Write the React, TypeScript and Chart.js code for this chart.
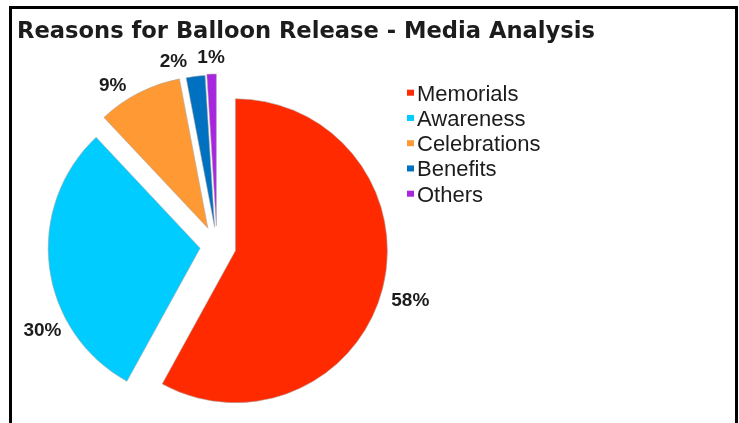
import React, { useEffect, useRef } from 'react';
import { Chart, registerables } from 'chart.js';

Chart.register(...registerables);

// ---- data ----
const TITLE = 'Reasons for Balloon Release - Media Analysis';
const categories = ['Memorials', 'Awareness', 'Celebrations', 'Benefits', 'Others'];
const shares = [58, 30, 9, 2, 1];
const colors = ['#FF2A00', '#00CCFF', '#FF9933', '#0070C0', '#A826E0'];

// ---- styling (explosion and label placement relative to each slice) ----
const explode = [19, 17, 20, 19, 20];
const labelDistance = [201, 194, 191, 189, 188];
const labelAngleShift = [1.5, -18.7, -6.1, -6.1, 0];

const TEXT_COLOR = '#1c1c1c';

const explodePlugin = {
  id: 'explodeSlices',
  beforeDatasetDraw(chart: any, args: any) {
    const ctx = chart.ctx;
    args.meta.data.forEach((arc: any, i: number) => {
      const mid = (arc.startAngle + arc.endAngle) / 2;
      const d = explode[i] || 0;
      ctx.save();
      ctx.translate(Math.cos(mid) * d, Math.sin(mid) * d);
      arc.draw(ctx);
      ctx.restore();
    });
    return false;
  },
};

const decorPlugin = {
  id: 'decor',
  afterDraw(chart: any) {
    const ctx = chart.ctx;
    const meta = chart.getDatasetMeta(0);
    const values: number[] = chart.data.datasets[0].data;
    const total = values.reduce((a, b) => a + b, 0);

    // title
    ctx.save();
    ctx.fillStyle = TEXT_COLOR;
    ctx.textBaseline = 'alphabetic';
    ctx.textAlign = 'left';
    ctx.font = 'bold 23px "DejaVu Sans"';
    const w = ctx.measureText(TITLE).width;
    ctx.translate(17, 38);
    ctx.scale(578 / w, 1);
    ctx.fillText(TITLE, 0, 0);
    ctx.restore();

    // percentage labels
    ctx.save();
    ctx.fillStyle = TEXT_COLOR;
    ctx.font = 'bold 19px "Liberation Sans", Arial, sans-serif';
    ctx.textAlign = 'center';
    ctx.textBaseline = 'middle';
    meta.data.forEach((arc: any, i: number) => {
      const mid = (arc.startAngle + arc.endAngle) / 2 + (labelAngleShift[i] * Math.PI) / 180;
      const r = labelDistance[i];
      const pct = Math.round((values[i] / total) * 100) + '%';
      ctx.fillText(pct, arc.x + Math.cos(mid) * r, arc.y + Math.sin(mid) * r);
    });
    ctx.restore();

    // legend
    ctx.save();
    ctx.font = '22px "Liberation Sans", Arial, sans-serif';
    ctx.textAlign = 'left';
    ctx.textBaseline = 'alphabetic';
    const labels: string[] = chart.data.labels;
    labels.forEach((lab, i) => {
      const base = 100.7 + i * 25.25;
      ctx.fillStyle = (chart.data.datasets[0].backgroundColor as string[])[i];
      ctx.fillRect(407, base - 11, 7, 6);
      ctx.fillStyle = TEXT_COLOR;
      ctx.fillText(lab, 417, base);
    });
    ctx.restore();
  },
};

export default function App() {
  const canvasRef = useRef<HTMLCanvasElement | null>(null);

  useEffect(() => {
    if (!canvasRef.current) return;
    const chart = new Chart(canvasRef.current, {
      type: 'pie',
      data: {
        labels: categories,
        datasets: [
          {
            data: shares,
            backgroundColor: colors,
            borderColor: 'rgba(170,170,170,0.7)',
            borderWidth: 0.8,
            offset: 0,
            hoverOffset: 0,
          },
        ],
      },
      options: {
        responsive: false,
        animation: false,
        events: [],
        radius: 152,
        layout: { padding: { left: 17, right: 322, top: 76, bottom: 7 } },
        plugins: {
          legend: { display: false },
          title: { display: false },
          tooltip: { enabled: false },
        },
      } as any,
      plugins: [explodePlugin, decorPlugin],
    });
    return () => chart.destroy();
  }, []);

  return (
    <div
      style={{
        position: 'fixed',
        left: 0,
        top: 0,
        width: 739,
        height: 423,
        overflow: 'hidden',
        background: '#fff',
      }}
    >
      <div
        style={{
          position: 'absolute',
          left: 9,
          top: 6,
          width: 729,
          height: 440,
          boxSizing: 'border-box',
          border: '3px solid #000',
          borderBottom: 'none',
        }}
      />
      <canvas
        ref={canvasRef}
        width={739}
        height={423}
        style={{ position: 'absolute', left: 0, top: 0, display: 'block' }}
      />
    </div>
  );
}
